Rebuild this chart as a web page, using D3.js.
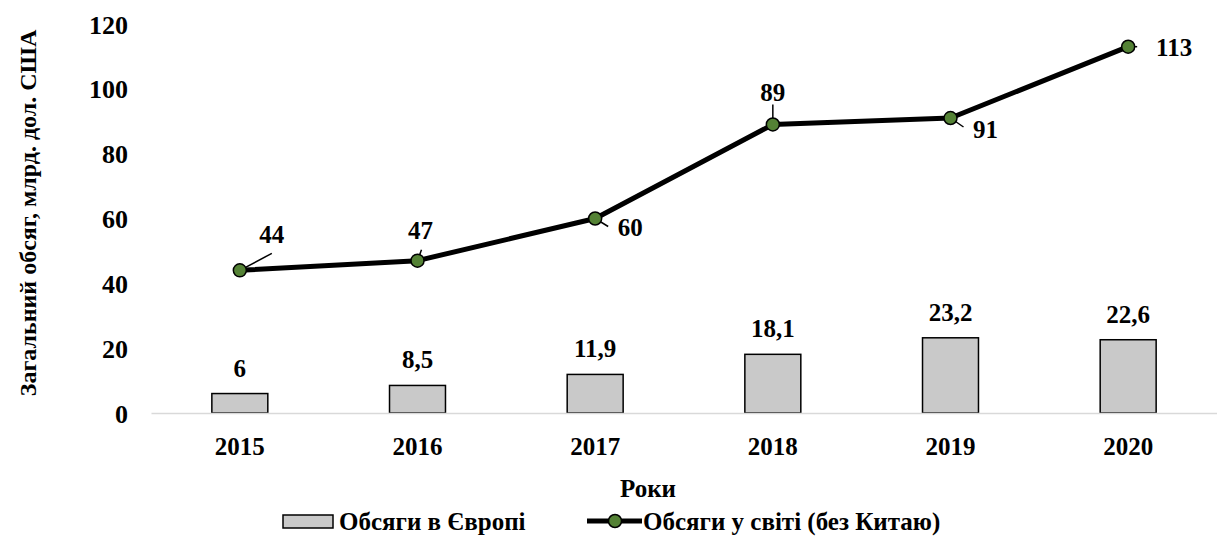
<!DOCTYPE html>
<html>
<head>
<meta charset="utf-8">
<script src="https://cdn.jsdelivr.net/npm/d3@7"></script>
<style>
  html, body { margin: 0; padding: 0; background: #fff; }
  svg text { font-family: "Liberation Serif", "Times New Roman", serif; font-weight: bold; fill: #000; }
</style>
</head>
<body>
<svg id="chart" width="1217" height="537"></svg>
<script>
const years = ["2015", "2016", "2017", "2018", "2019", "2020"];
const europe = [6, 8.5, 11.9, 18.1, 23.2, 22.6];
const world = [44, 47, 60, 89, 91, 113];
const yTicks = [0, 20, 40, 60, 80, 100, 120];
const seriesNames = ["Обсяги в Європі", "Обсяги у світі (без Китаю)"];
const yTitle = "Загальний обсяг, млрд. дол. США";
const xTitle = "Роки";
// label placement offsets for the line labels (dx, dy of label centre relative to point)
const lineLabelPos = [
  { dx: 32, dy: -36, lx: 32, ly: -17 },
  { dx: 3, dy: -30, lx: 4, ly: -11 },
  { dx: 35, dy: 9, lx: 13, ly: 8 },
  { dx: 0, dy: -32, lx: 0, ly: -20 },
  { dx: 35, dy: 11, lx: 13, ly: 9 },
  { dx: 46, dy: 1, lx: 9, ly: 0 }
];

const fmt = v => String(v).replace(".", ",");

const svg = d3.select("#chart");
const plot = { left: 151, right: 1217, top: 24, bottom: 413 };

const x = d3.scaleBand().domain(years).range([plot.left, plot.right]).padding(0);
const barW = x.bandwidth() * 0.315;
const cx = d => x(d) + x.bandwidth() / 2;
const y = d3.scaleLinear().domain([0, 120]).range([plot.bottom, plot.top]);

// y tick labels
const yAxis = d3.axisLeft(y).tickValues(yTicks).tickSize(0).tickPadding(0);
const gy = svg.append("g").attr("transform", `translate(${128},0)`).call(yAxis);
gy.select(".domain").remove();
gy.selectAll("text").style("font-size", "26px").attr("dy", "0.35em")
  .style("font-family", '"Liberation Serif", serif').style("font-weight", "bold").attr("fill", "#000");

// bars
svg.append("g").selectAll("rect").data(years).join("rect")
  .attr("x", (d) => cx(d) - barW / 2)
  .attr("y", (d, i) => y(europe[i]))
  .attr("width", barW)
  .attr("height", (d, i) => y(0) - y(europe[i]))
  .attr("fill", "#c9c9c9")
  .attr("stroke", "#000")
  .attr("stroke-width", 1.5);

// x axis
const xAxis = d3.axisBottom(x).tickSize(0).tickPadding(0);
const gx = svg.append("g").attr("transform", `translate(0,${plot.bottom})`).call(xAxis);
gx.select(".domain").attr("stroke", "#d9d9d9").attr("stroke-width", 1.5);
gx.selectAll("text").attr("y", 42).attr("dy", 0)
  .style("font-size", "25px").style("font-family", '"Liberation Serif", serif')
  .style("font-weight", "bold").attr("fill", "#000");

// bar labels
svg.append("g").selectAll("text").data(years).join("text")
  .attr("x", d => cx(d))
  .attr("y", (d, i) => y(europe[i]) - 17)
  .attr("text-anchor", "middle")
  .style("font-size", "25px")
  .text((d, i) => fmt(europe[i]));

// line
const line = d3.line().x((d, i) => cx(years[i])).y(d => y(d));
svg.append("path").datum(world)
  .attr("d", line)
  .attr("fill", "none")
  .attr("stroke", "#000")
  .attr("stroke-width", 5)
  .attr("stroke-linejoin", "round");

// leader lines
svg.append("g").selectAll("line").data(world).join("line")
  .attr("x1", (d, i) => cx(years[i]))
  .attr("y1", d => y(d))
  .attr("x2", (d, i) => cx(years[i]) + lineLabelPos[i].lx)
  .attr("y2", (d, i) => y(d) + lineLabelPos[i].ly)
  .attr("stroke", "#000").attr("stroke-width", 1.5);

// markers
svg.append("g").selectAll("circle").data(world).join("circle")
  .attr("cx", (d, i) => cx(years[i]))
  .attr("cy", d => y(d))
  .attr("r", 6.5)
  .attr("fill", "#548235")
  .attr("stroke", "#000")
  .attr("stroke-width", 1.5);

// line labels
svg.append("g").selectAll("text").data(world).join("text")
  .attr("x", (d, i) => cx(years[i]) + lineLabelPos[i].dx)
  .attr("y", (d, i) => y(d) + lineLabelPos[i].dy)
  .attr("dy", "0.35em")
  .attr("text-anchor", "middle")
  .style("font-size", "25px")
  .text(d => fmt(d));

// axis titles
svg.append("text")
  .attr("transform", `translate(36,213) rotate(-90)`)
  .attr("text-anchor", "middle")
  .style("font-size", "24px")
  .text(yTitle);

svg.append("text")
  .attr("x", 648).attr("y", 497)
  .attr("text-anchor", "middle")
  .style("font-size", "25px")
  .text(xTitle);

// legend
const lg = svg.append("g");
lg.append("rect").attr("x", 283).attr("y", 515).attr("width", 50).attr("height", 13)
  .attr("fill", "#c9c9c9").attr("stroke", "#000").attr("stroke-width", 1.5);
lg.append("text").attr("x", 339).attr("y", 530).style("font-size", "25px").text(seriesNames[0]);
lg.append("line").attr("x1", 587).attr("x2", 642).attr("y1", 521).attr("y2", 521)
  .attr("stroke", "#000").attr("stroke-width", 5);
lg.append("circle").attr("cx", 615).attr("cy", 521).attr("r", 6.5)
  .attr("fill", "#548235").attr("stroke", "#000").attr("stroke-width", 1.5);
lg.append("text").attr("x", 643).attr("y", 530).style("font-size", "25px").text(seriesNames[1]);
</script>
</body>
</html>
